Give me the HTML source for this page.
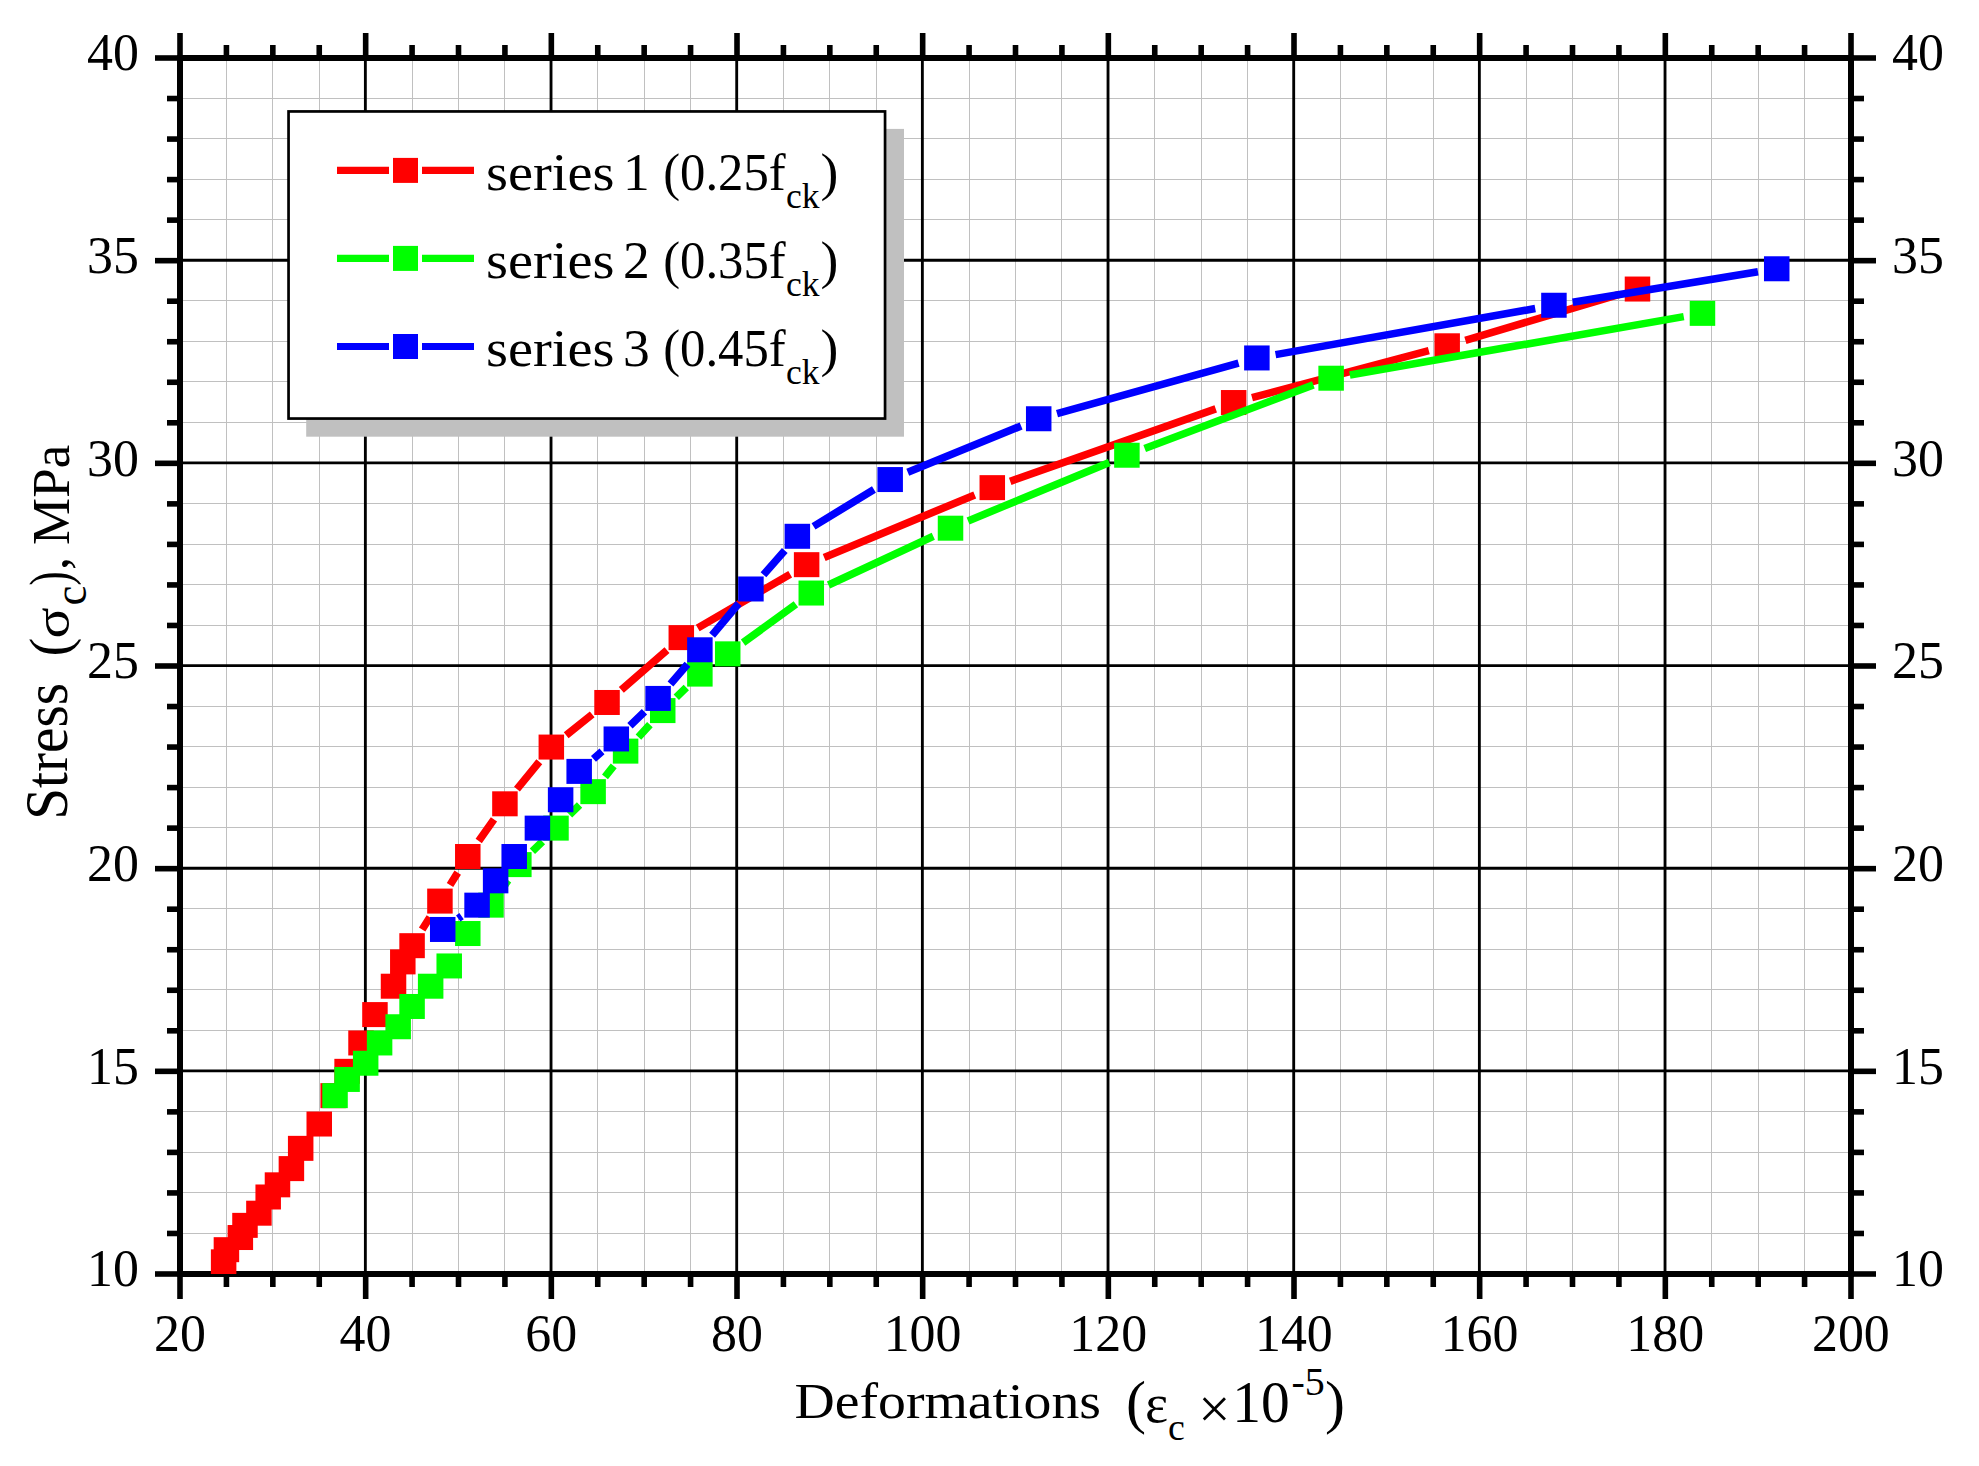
<!DOCTYPE html>
<html lang="en"><head><meta charset="utf-8"><title>Stress - deformations</title>
<style>html,body{margin:0;padding:0;background:#fff}svg{display:block}text{font-family:"Liberation Serif","DejaVu Serif",serif;fill:#000}</style></head><body>
<svg width="1979" height="1466" viewBox="0 0 1979 1466">
<rect x="0" y="0" width="1979" height="1466" fill="#fff"/>
<g stroke="#c0c0c0" stroke-width="1" shape-rendering="crispEdges">
<line x1="226.42" y1="58" x2="226.42" y2="1274"/>
<line x1="272.83" y1="58" x2="272.83" y2="1274"/>
<line x1="319.25" y1="58" x2="319.25" y2="1274"/>
<line x1="412.08" y1="58" x2="412.08" y2="1274"/>
<line x1="458.5" y1="58" x2="458.5" y2="1274"/>
<line x1="504.92" y1="58" x2="504.92" y2="1274"/>
<line x1="597.75" y1="58" x2="597.75" y2="1274"/>
<line x1="644.17" y1="58" x2="644.17" y2="1274"/>
<line x1="690.58" y1="58" x2="690.58" y2="1274"/>
<line x1="783.42" y1="58" x2="783.42" y2="1274"/>
<line x1="829.83" y1="58" x2="829.83" y2="1274"/>
<line x1="876.25" y1="58" x2="876.25" y2="1274"/>
<line x1="969.08" y1="58" x2="969.08" y2="1274"/>
<line x1="1015.5" y1="58" x2="1015.5" y2="1274"/>
<line x1="1061.92" y1="58" x2="1061.92" y2="1274"/>
<line x1="1154.75" y1="58" x2="1154.75" y2="1274"/>
<line x1="1201.17" y1="58" x2="1201.17" y2="1274"/>
<line x1="1247.58" y1="58" x2="1247.58" y2="1274"/>
<line x1="1340.42" y1="58" x2="1340.42" y2="1274"/>
<line x1="1386.83" y1="58" x2="1386.83" y2="1274"/>
<line x1="1433.25" y1="58" x2="1433.25" y2="1274"/>
<line x1="1526.08" y1="58" x2="1526.08" y2="1274"/>
<line x1="1572.5" y1="58" x2="1572.5" y2="1274"/>
<line x1="1618.92" y1="58" x2="1618.92" y2="1274"/>
<line x1="1711.75" y1="58" x2="1711.75" y2="1274"/>
<line x1="1758.17" y1="58" x2="1758.17" y2="1274"/>
<line x1="1804.58" y1="58" x2="1804.58" y2="1274"/>
<line x1="180" y1="1233.07" x2="1851" y2="1233.07"/>
<line x1="180" y1="1192.53" x2="1851" y2="1192.53"/>
<line x1="180" y1="1152" x2="1851" y2="1152"/>
<line x1="180" y1="1111.47" x2="1851" y2="1111.47"/>
<line x1="180" y1="1030.4" x2="1851" y2="1030.4"/>
<line x1="180" y1="989.87" x2="1851" y2="989.87"/>
<line x1="180" y1="949.33" x2="1851" y2="949.33"/>
<line x1="180" y1="908.8" x2="1851" y2="908.8"/>
<line x1="180" y1="827.73" x2="1851" y2="827.73"/>
<line x1="180" y1="787.2" x2="1851" y2="787.2"/>
<line x1="180" y1="746.67" x2="1851" y2="746.67"/>
<line x1="180" y1="706.13" x2="1851" y2="706.13"/>
<line x1="180" y1="625.07" x2="1851" y2="625.07"/>
<line x1="180" y1="584.53" x2="1851" y2="584.53"/>
<line x1="180" y1="544" x2="1851" y2="544"/>
<line x1="180" y1="503.47" x2="1851" y2="503.47"/>
<line x1="180" y1="422.4" x2="1851" y2="422.4"/>
<line x1="180" y1="381.87" x2="1851" y2="381.87"/>
<line x1="180" y1="341.33" x2="1851" y2="341.33"/>
<line x1="180" y1="300.8" x2="1851" y2="300.8"/>
<line x1="180" y1="219.73" x2="1851" y2="219.73"/>
<line x1="180" y1="179.2" x2="1851" y2="179.2"/>
<line x1="180" y1="138.67" x2="1851" y2="138.67"/>
<line x1="180" y1="98.13" x2="1851" y2="98.13"/>
</g>
<g stroke="#000" stroke-width="2.85">
<line x1="365.37" y1="58" x2="365.37" y2="1274"/>
<line x1="551.03" y1="58" x2="551.03" y2="1274"/>
<line x1="736.7" y1="58" x2="736.7" y2="1274"/>
<line x1="922.37" y1="58" x2="922.37" y2="1274"/>
<line x1="1108.03" y1="58" x2="1108.03" y2="1274"/>
<line x1="1293.7" y1="58" x2="1293.7" y2="1274"/>
<line x1="1479.37" y1="58" x2="1479.37" y2="1274"/>
<line x1="1665.03" y1="58" x2="1665.03" y2="1274"/>
<line x1="180" y1="1070.93" x2="1851" y2="1070.93"/>
<line x1="180" y1="868.27" x2="1851" y2="868.27"/>
<line x1="180" y1="665.6" x2="1851" y2="665.6"/>
<line x1="180" y1="462.93" x2="1851" y2="462.93"/>
<line x1="180" y1="260.27" x2="1851" y2="260.27"/>
</g>
<g stroke="#000" stroke-width="6" fill="none">
<rect x="180" y="58" width="1671" height="1216"/>
</g>
<g stroke="#000" stroke-width="5.6">
<line x1="180" y1="33" x2="180" y2="58"/>
<line x1="180" y1="1274" x2="180" y2="1299"/>
<line x1="226.42" y1="45" x2="226.42" y2="58"/>
<line x1="226.42" y1="1274" x2="226.42" y2="1287"/>
<line x1="272.83" y1="45" x2="272.83" y2="58"/>
<line x1="272.83" y1="1274" x2="272.83" y2="1287"/>
<line x1="319.25" y1="45" x2="319.25" y2="58"/>
<line x1="319.25" y1="1274" x2="319.25" y2="1287"/>
<line x1="365.67" y1="33" x2="365.67" y2="58"/>
<line x1="365.67" y1="1274" x2="365.67" y2="1299"/>
<line x1="412.08" y1="45" x2="412.08" y2="58"/>
<line x1="412.08" y1="1274" x2="412.08" y2="1287"/>
<line x1="458.5" y1="45" x2="458.5" y2="58"/>
<line x1="458.5" y1="1274" x2="458.5" y2="1287"/>
<line x1="504.92" y1="45" x2="504.92" y2="58"/>
<line x1="504.92" y1="1274" x2="504.92" y2="1287"/>
<line x1="551.33" y1="33" x2="551.33" y2="58"/>
<line x1="551.33" y1="1274" x2="551.33" y2="1299"/>
<line x1="597.75" y1="45" x2="597.75" y2="58"/>
<line x1="597.75" y1="1274" x2="597.75" y2="1287"/>
<line x1="644.17" y1="45" x2="644.17" y2="58"/>
<line x1="644.17" y1="1274" x2="644.17" y2="1287"/>
<line x1="690.58" y1="45" x2="690.58" y2="58"/>
<line x1="690.58" y1="1274" x2="690.58" y2="1287"/>
<line x1="737" y1="33" x2="737" y2="58"/>
<line x1="737" y1="1274" x2="737" y2="1299"/>
<line x1="783.42" y1="45" x2="783.42" y2="58"/>
<line x1="783.42" y1="1274" x2="783.42" y2="1287"/>
<line x1="829.83" y1="45" x2="829.83" y2="58"/>
<line x1="829.83" y1="1274" x2="829.83" y2="1287"/>
<line x1="876.25" y1="45" x2="876.25" y2="58"/>
<line x1="876.25" y1="1274" x2="876.25" y2="1287"/>
<line x1="922.67" y1="33" x2="922.67" y2="58"/>
<line x1="922.67" y1="1274" x2="922.67" y2="1299"/>
<line x1="969.08" y1="45" x2="969.08" y2="58"/>
<line x1="969.08" y1="1274" x2="969.08" y2="1287"/>
<line x1="1015.5" y1="45" x2="1015.5" y2="58"/>
<line x1="1015.5" y1="1274" x2="1015.5" y2="1287"/>
<line x1="1061.92" y1="45" x2="1061.92" y2="58"/>
<line x1="1061.92" y1="1274" x2="1061.92" y2="1287"/>
<line x1="1108.33" y1="33" x2="1108.33" y2="58"/>
<line x1="1108.33" y1="1274" x2="1108.33" y2="1299"/>
<line x1="1154.75" y1="45" x2="1154.75" y2="58"/>
<line x1="1154.75" y1="1274" x2="1154.75" y2="1287"/>
<line x1="1201.17" y1="45" x2="1201.17" y2="58"/>
<line x1="1201.17" y1="1274" x2="1201.17" y2="1287"/>
<line x1="1247.58" y1="45" x2="1247.58" y2="58"/>
<line x1="1247.58" y1="1274" x2="1247.58" y2="1287"/>
<line x1="1294" y1="33" x2="1294" y2="58"/>
<line x1="1294" y1="1274" x2="1294" y2="1299"/>
<line x1="1340.42" y1="45" x2="1340.42" y2="58"/>
<line x1="1340.42" y1="1274" x2="1340.42" y2="1287"/>
<line x1="1386.83" y1="45" x2="1386.83" y2="58"/>
<line x1="1386.83" y1="1274" x2="1386.83" y2="1287"/>
<line x1="1433.25" y1="45" x2="1433.25" y2="58"/>
<line x1="1433.25" y1="1274" x2="1433.25" y2="1287"/>
<line x1="1479.67" y1="33" x2="1479.67" y2="58"/>
<line x1="1479.67" y1="1274" x2="1479.67" y2="1299"/>
<line x1="1526.08" y1="45" x2="1526.08" y2="58"/>
<line x1="1526.08" y1="1274" x2="1526.08" y2="1287"/>
<line x1="1572.5" y1="45" x2="1572.5" y2="58"/>
<line x1="1572.5" y1="1274" x2="1572.5" y2="1287"/>
<line x1="1618.92" y1="45" x2="1618.92" y2="58"/>
<line x1="1618.92" y1="1274" x2="1618.92" y2="1287"/>
<line x1="1665.33" y1="33" x2="1665.33" y2="58"/>
<line x1="1665.33" y1="1274" x2="1665.33" y2="1299"/>
<line x1="1711.75" y1="45" x2="1711.75" y2="58"/>
<line x1="1711.75" y1="1274" x2="1711.75" y2="1287"/>
<line x1="1758.17" y1="45" x2="1758.17" y2="58"/>
<line x1="1758.17" y1="1274" x2="1758.17" y2="1287"/>
<line x1="1804.58" y1="45" x2="1804.58" y2="58"/>
<line x1="1804.58" y1="1274" x2="1804.58" y2="1287"/>
<line x1="1851" y1="33" x2="1851" y2="58"/>
<line x1="1851" y1="1274" x2="1851" y2="1299"/>
<line x1="155" y1="1274" x2="180" y2="1274"/>
<line x1="1851" y1="1274" x2="1876" y2="1274"/>
<line x1="167" y1="1233.47" x2="180" y2="1233.47"/>
<line x1="1851" y1="1233.47" x2="1864" y2="1233.47"/>
<line x1="167" y1="1192.93" x2="180" y2="1192.93"/>
<line x1="1851" y1="1192.93" x2="1864" y2="1192.93"/>
<line x1="167" y1="1152.4" x2="180" y2="1152.4"/>
<line x1="1851" y1="1152.4" x2="1864" y2="1152.4"/>
<line x1="167" y1="1111.87" x2="180" y2="1111.87"/>
<line x1="1851" y1="1111.87" x2="1864" y2="1111.87"/>
<line x1="155" y1="1071.33" x2="180" y2="1071.33"/>
<line x1="1851" y1="1071.33" x2="1876" y2="1071.33"/>
<line x1="167" y1="1030.8" x2="180" y2="1030.8"/>
<line x1="1851" y1="1030.8" x2="1864" y2="1030.8"/>
<line x1="167" y1="990.27" x2="180" y2="990.27"/>
<line x1="1851" y1="990.27" x2="1864" y2="990.27"/>
<line x1="167" y1="949.73" x2="180" y2="949.73"/>
<line x1="1851" y1="949.73" x2="1864" y2="949.73"/>
<line x1="167" y1="909.2" x2="180" y2="909.2"/>
<line x1="1851" y1="909.2" x2="1864" y2="909.2"/>
<line x1="155" y1="868.67" x2="180" y2="868.67"/>
<line x1="1851" y1="868.67" x2="1876" y2="868.67"/>
<line x1="167" y1="828.13" x2="180" y2="828.13"/>
<line x1="1851" y1="828.13" x2="1864" y2="828.13"/>
<line x1="167" y1="787.6" x2="180" y2="787.6"/>
<line x1="1851" y1="787.6" x2="1864" y2="787.6"/>
<line x1="167" y1="747.07" x2="180" y2="747.07"/>
<line x1="1851" y1="747.07" x2="1864" y2="747.07"/>
<line x1="167" y1="706.53" x2="180" y2="706.53"/>
<line x1="1851" y1="706.53" x2="1864" y2="706.53"/>
<line x1="155" y1="666" x2="180" y2="666"/>
<line x1="1851" y1="666" x2="1876" y2="666"/>
<line x1="167" y1="625.47" x2="180" y2="625.47"/>
<line x1="1851" y1="625.47" x2="1864" y2="625.47"/>
<line x1="167" y1="584.93" x2="180" y2="584.93"/>
<line x1="1851" y1="584.93" x2="1864" y2="584.93"/>
<line x1="167" y1="544.4" x2="180" y2="544.4"/>
<line x1="1851" y1="544.4" x2="1864" y2="544.4"/>
<line x1="167" y1="503.87" x2="180" y2="503.87"/>
<line x1="1851" y1="503.87" x2="1864" y2="503.87"/>
<line x1="155" y1="463.33" x2="180" y2="463.33"/>
<line x1="1851" y1="463.33" x2="1876" y2="463.33"/>
<line x1="167" y1="422.8" x2="180" y2="422.8"/>
<line x1="1851" y1="422.8" x2="1864" y2="422.8"/>
<line x1="167" y1="382.27" x2="180" y2="382.27"/>
<line x1="1851" y1="382.27" x2="1864" y2="382.27"/>
<line x1="167" y1="341.73" x2="180" y2="341.73"/>
<line x1="1851" y1="341.73" x2="1864" y2="341.73"/>
<line x1="167" y1="301.2" x2="180" y2="301.2"/>
<line x1="1851" y1="301.2" x2="1864" y2="301.2"/>
<line x1="155" y1="260.67" x2="180" y2="260.67"/>
<line x1="1851" y1="260.67" x2="1876" y2="260.67"/>
<line x1="167" y1="220.13" x2="180" y2="220.13"/>
<line x1="1851" y1="220.13" x2="1864" y2="220.13"/>
<line x1="167" y1="179.6" x2="180" y2="179.6"/>
<line x1="1851" y1="179.6" x2="1864" y2="179.6"/>
<line x1="167" y1="139.07" x2="180" y2="139.07"/>
<line x1="1851" y1="139.07" x2="1864" y2="139.07"/>
<line x1="167" y1="98.53" x2="180" y2="98.53"/>
<line x1="1851" y1="98.53" x2="1864" y2="98.53"/>
<line x1="155" y1="58" x2="180" y2="58"/>
<line x1="1851" y1="58" x2="1876" y2="58"/>
</g>
<clipPath id="plotclip"><rect x="180" y="58" width="1671" height="1216"/></clipPath>
<g id="plots" clip-path="url(#plotclip)">
<g stroke="#ff0000" stroke-width="7.6" fill="#ff0000">
<path d="M422.15 929.57L429.87 917.21M450 884.98L457.72 872.62M478.73 840.98L493.97 819.34M516.95 789.11L539.3 761.77M566.17 735.19L592.2 714.35M621.34 689.98L666.99 650.12M697.72 628.07L790.2 574.23M824.18 557.39L974.74 494.93M1010.21 481.33L1215.74 408.85M1252.02 397.65L1428.81 350.67M1465.38 340.36L1619.28 294.47" fill="none"/>
<rect x="210.88" y="1249.34" width="25.5" height="25" stroke="none"/>
<rect x="213.67" y="1237.18" width="25.5" height="25" stroke="none"/>
<rect x="227.59" y="1225.02" width="25.5" height="25" stroke="none"/>
<rect x="232.23" y="1212.86" width="25.5" height="25" stroke="none"/>
<rect x="246.16" y="1200.7" width="25.5" height="25" stroke="none"/>
<rect x="255.44" y="1184.49" width="25.5" height="25" stroke="none"/>
<rect x="264.73" y="1172.33" width="25.5" height="25" stroke="none"/>
<rect x="278.65" y="1156.11" width="25.5" height="25" stroke="none"/>
<rect x="287.93" y="1135.85" width="25.5" height="25" stroke="none"/>
<rect x="306.5" y="1111.53" width="25.5" height="25" stroke="none"/>
<rect x="320.43" y="1083.15" width="25.5" height="25" stroke="none"/>
<rect x="334.35" y="1058.83" width="25.5" height="25" stroke="none"/>
<rect x="348.27" y="1030.46" width="25.5" height="25" stroke="none"/>
<rect x="362.2" y="1002.09" width="25.5" height="25" stroke="none"/>
<rect x="380.77" y="973.71" width="25.5" height="25" stroke="none"/>
<rect x="390.05" y="949.39" width="25.5" height="25" stroke="none"/>
<rect x="399.33" y="933.18" width="25.5" height="25" stroke="none"/>
<rect x="427.18" y="888.59" width="25.5" height="25" stroke="none"/>
<rect x="455.03" y="844.01" width="25.5" height="25" stroke="none"/>
<rect x="492.17" y="791.31" width="25.5" height="25" stroke="none"/>
<rect x="538.58" y="734.57" width="25.5" height="25" stroke="none"/>
<rect x="594.28" y="689.98" width="25.5" height="25" stroke="none"/>
<rect x="668.55" y="625.13" width="25.5" height="25" stroke="none"/>
<rect x="793.88" y="552.17" width="25.5" height="25" stroke="none"/>
<rect x="979.54" y="475.15" width="25.5" height="25" stroke="none"/>
<rect x="1220.91" y="390.03" width="25.5" height="25" stroke="none"/>
<rect x="1434.42" y="333.29" width="25.5" height="25" stroke="none"/>
<rect x="1624.73" y="276.54" width="25.5" height="25" stroke="none"/>
</g>
<g stroke="#00ff00" stroke-width="7.6" fill="#00ff00">
<path d="M501.75 889.49L508.08 880.27M532.4 851.3L542.42 841.45M569.53 814.82L579.55 804.97M604.99 776.83L613.72 765.94M638.43 737.11L649.9 724.6M676.29 697.27L686.31 687.42M743.08 642.66L795.9 604.22M828.49 585.02L933.29 536.21M968.07 520.92L1109.34 462.49M1144.68 448.52L1313.36 384.92M1349.85 374.94L1683.75 316.63" fill="none"/>
<rect x="322.28" y="1083.15" width="25.5" height="25" stroke="none"/>
<rect x="334.35" y="1066.94" width="25.5" height="25" stroke="none"/>
<rect x="352.92" y="1050.73" width="25.5" height="25" stroke="none"/>
<rect x="366.84" y="1030.46" width="25.5" height="25" stroke="none"/>
<rect x="385.41" y="1014.25" width="25.5" height="25" stroke="none"/>
<rect x="399.33" y="993.98" width="25.5" height="25" stroke="none"/>
<rect x="417.9" y="973.71" width="25.5" height="25" stroke="none"/>
<rect x="436.47" y="953.45" width="25.5" height="25" stroke="none"/>
<rect x="455.03" y="921.02" width="25.5" height="25" stroke="none"/>
<rect x="478.24" y="892.65" width="25.5" height="25" stroke="none"/>
<rect x="506.09" y="852.11" width="25.5" height="25" stroke="none"/>
<rect x="543.23" y="815.63" width="25.5" height="25" stroke="none"/>
<rect x="580.36" y="779.15" width="25.5" height="25" stroke="none"/>
<rect x="612.85" y="738.62" width="25.5" height="25" stroke="none"/>
<rect x="649.98" y="698.09" width="25.5" height="25" stroke="none"/>
<rect x="687.12" y="661.61" width="25.5" height="25" stroke="none"/>
<rect x="714.97" y="641.34" width="25.5" height="25" stroke="none"/>
<rect x="798.52" y="580.54" width="25.5" height="25" stroke="none"/>
<rect x="937.77" y="515.69" width="25.5" height="25" stroke="none"/>
<rect x="1114.15" y="442.73" width="25.5" height="25" stroke="none"/>
<rect x="1318.38" y="365.71" width="25.5" height="25" stroke="none"/>
<rect x="1689.72" y="300.86" width="25.5" height="25" stroke="none"/>
</g>
<g stroke="#0000ff" stroke-width="7.6" fill="#0000ff">
<path d="M458.22 918.49L461.56 916.13M593.49 758.89L602.01 751.46M629.95 725.73L644.46 711.66M670.47 684.01L687.49 664.2M712.09 635.24L738.71 603.54M763.48 574.73L784.78 550.55M813.55 526.38L873.96 489.46M907.76 472.35L1021.12 425.94M1057.01 413.65L1238.56 363.05M1275.57 354.63L1535.23 308.57M1572.68 302.18L1757.98 271.84" fill="none"/>
<rect x="429.97" y="916.97" width="25.5" height="25" stroke="none"/>
<rect x="464.32" y="892.65" width="25.5" height="25" stroke="none"/>
<rect x="482.88" y="868.33" width="25.5" height="25" stroke="none"/>
<rect x="501.45" y="844.01" width="25.5" height="25" stroke="none"/>
<rect x="524.66" y="815.63" width="25.5" height="25" stroke="none"/>
<rect x="547.87" y="787.26" width="25.5" height="25" stroke="none"/>
<rect x="566.43" y="758.89" width="25.5" height="25" stroke="none"/>
<rect x="603.57" y="726.46" width="25.5" height="25" stroke="none"/>
<rect x="645.34" y="685.93" width="25.5" height="25" stroke="none"/>
<rect x="687.12" y="637.29" width="25.5" height="25" stroke="none"/>
<rect x="738.17" y="576.49" width="25.5" height="25" stroke="none"/>
<rect x="784.59" y="523.79" width="25.5" height="25" stroke="none"/>
<rect x="877.42" y="467.05" width="25.5" height="25" stroke="none"/>
<rect x="1025.96" y="406.25" width="25.5" height="25" stroke="none"/>
<rect x="1244.12" y="345.45" width="25.5" height="25" stroke="none"/>
<rect x="1541.18" y="292.75" width="25.5" height="25" stroke="none"/>
<rect x="1763.98" y="256.27" width="25.5" height="25" stroke="none"/>
</g>
</g>
<g font-size="53.5">
<text x="87.11" y="1286.2" textLength="51.89" lengthAdjust="spacingAndGlyphs">10</text>
<text x="1892" y="1286.2" textLength="51.89" lengthAdjust="spacingAndGlyphs">10</text>
<text x="87.11" y="1083.53" textLength="51.89" lengthAdjust="spacingAndGlyphs">15</text>
<text x="1892" y="1083.53" textLength="51.89" lengthAdjust="spacingAndGlyphs">15</text>
<text x="87.11" y="880.87" textLength="51.89" lengthAdjust="spacingAndGlyphs">20</text>
<text x="1892" y="880.87" textLength="51.89" lengthAdjust="spacingAndGlyphs">20</text>
<text x="87.11" y="678.2" textLength="51.89" lengthAdjust="spacingAndGlyphs">25</text>
<text x="1892" y="678.2" textLength="51.89" lengthAdjust="spacingAndGlyphs">25</text>
<text x="87.11" y="475.53" textLength="51.89" lengthAdjust="spacingAndGlyphs">30</text>
<text x="1892" y="475.53" textLength="51.89" lengthAdjust="spacingAndGlyphs">30</text>
<text x="87.11" y="272.87" textLength="51.89" lengthAdjust="spacingAndGlyphs">35</text>
<text x="1892" y="272.87" textLength="51.89" lengthAdjust="spacingAndGlyphs">35</text>
<text x="87.11" y="70.2" textLength="51.89" lengthAdjust="spacingAndGlyphs">40</text>
<text x="1892" y="70.2" textLength="51.89" lengthAdjust="spacingAndGlyphs">40</text>
<text x="153.95" y="1351.3" textLength="51.89" lengthAdjust="spacingAndGlyphs">20</text>
<text x="339.62" y="1351.3" textLength="51.89" lengthAdjust="spacingAndGlyphs">40</text>
<text x="525.29" y="1351.3" textLength="51.89" lengthAdjust="spacingAndGlyphs">60</text>
<text x="710.95" y="1351.3" textLength="51.89" lengthAdjust="spacingAndGlyphs">80</text>
<text x="883.65" y="1351.3" textLength="77.84" lengthAdjust="spacingAndGlyphs">100</text>
<text x="1069.31" y="1351.3" textLength="77.84" lengthAdjust="spacingAndGlyphs">120</text>
<text x="1254.98" y="1351.3" textLength="77.84" lengthAdjust="spacingAndGlyphs">140</text>
<text x="1440.65" y="1351.3" textLength="77.84" lengthAdjust="spacingAndGlyphs">160</text>
<text x="1626.31" y="1351.3" textLength="77.84" lengthAdjust="spacingAndGlyphs">180</text>
<text x="1811.98" y="1351.3" textLength="77.84" lengthAdjust="spacingAndGlyphs">200</text>
</g>
<g id="xtitle">
<text x="794.5" y="1418.3" font-size="51.4" textLength="306.5" lengthAdjust="spacingAndGlyphs">Deformations</text>
<text x="1126" y="1422" font-size="60">(</text>
<text x="1145" y="1422" font-size="55">ε</text>
<text x="1168" y="1440" font-size="38">c</text>
<text x="1198.3" y="1428.3" font-size="57">×</text>
<text x="1232.3" y="1422" font-size="60" textLength="57.5" lengthAdjust="spacingAndGlyphs">10</text>
<text x="1291.5" y="1395" font-size="40">-5</text>
<text x="1325" y="1422" font-size="60">)</text>
</g>
<g id="ytitle">
<text transform="translate(66.5 819.8) rotate(-90) scale(0.94 1)" font-size="61">Stress</text>
<text transform="translate(68.7 656.6) rotate(-90)" font-size="56.6">(</text>
<text transform="translate(68.9 638.5) rotate(-90) scale(1.15 1)" font-size="50">σ</text>
<text transform="translate(85.9 605.5) rotate(-90) scale(0.95 1)" font-size="47">c</text>
<text transform="translate(68.7 585.5) rotate(-90) scale(0.75 1)" font-size="56.6">)</text>
<text transform="translate(67 570) rotate(-90)" font-size="52">,</text>
<text transform="translate(68.8 545) rotate(-90) scale(1.02 1)" font-size="52">MPa</text>
</g>
<g id="legend">
<rect x="306.2" y="128.9" width="597.8" height="307.8" fill="#c0c0c0"/>
<rect x="288.55" y="111.45" width="596.5" height="307.1" fill="#fff" stroke="#000" stroke-width="2.7"/>
<path d="M337 170.4H389M422 170.4H474" stroke="#ff0000" stroke-width="7.2" fill="none"/>
<rect x="393" y="157.9" width="25" height="25" fill="#ff0000"/>
<text y="189.6" font-size="53.5"><tspan x="486" textLength="128.6" lengthAdjust="spacingAndGlyphs">series</tspan></text>
<text x="623" y="189.6" font-size="53.5">1</text>
<text x="663.2" y="189.6" font-size="53.5" textLength="122.5" lengthAdjust="spacingAndGlyphs">(0.25f</text>
<text x="786" y="207.9" font-size="35.5">ck</text>
<text x="820.6" y="189.6" font-size="53.5">)</text>
<path d="M337 258.4H389M422 258.4H474" stroke="#00ff00" stroke-width="7.2" fill="none"/>
<rect x="393" y="245.9" width="25" height="25" fill="#00ff00"/>
<text y="277.6" font-size="53.5"><tspan x="486" textLength="128.6" lengthAdjust="spacingAndGlyphs">series</tspan></text>
<text x="623" y="277.6" font-size="53.5">2</text>
<text x="663.2" y="277.6" font-size="53.5" textLength="122.5" lengthAdjust="spacingAndGlyphs">(0.35f</text>
<text x="786" y="295.9" font-size="35.5">ck</text>
<text x="820.6" y="277.6" font-size="53.5">)</text>
<path d="M337 346.5H389M422 346.5H474" stroke="#0000ff" stroke-width="7.2" fill="none"/>
<rect x="393" y="334" width="25" height="25" fill="#0000ff"/>
<text y="365.7" font-size="53.5"><tspan x="486" textLength="128.6" lengthAdjust="spacingAndGlyphs">series</tspan></text>
<text x="623" y="365.7" font-size="53.5">3</text>
<text x="663.2" y="365.7" font-size="53.5" textLength="122.5" lengthAdjust="spacingAndGlyphs">(0.45f</text>
<text x="786" y="384" font-size="35.5">ck</text>
<text x="820.6" y="365.7" font-size="53.5">)</text>
</g>
</svg></body></html>
